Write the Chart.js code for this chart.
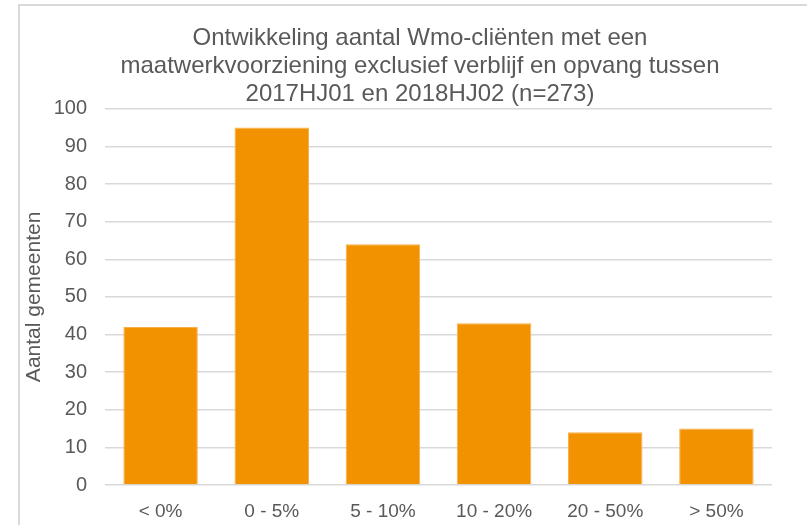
<!DOCTYPE html>
<html>
<head>
<meta charset="utf-8">
<script src="https://cdn.jsdelivr.net/npm/chart.js@4/dist/chart.umd.min.js"></script>
<style>
    html, body { margin: 0; padding: 0; background: #fff; overflow: hidden; }
    #frame { position: absolute; left: 18px; top: 4px; width: 800px; height: 540px; border: 2px solid #d9d9d9; }
    #chart { position: absolute; left: 0; top: 0; }
</style>
</head>
<body>
<div id="frame"></div>
<canvas id="chart" width="807" height="525"></canvas>
<script>
// categorieën en aantallen gemeenten
const categories = ['< 0%', '0 - 5%', '5 - 10%', '10 - 20%', '20 - 50%', '> 50%'];
const aantallen = [42, 95, 64, 43, 14, 15];
const titleLines = [
    'Ontwikkeling aantal Wmo-cliënten met een',
    'maatwerkvoorziening exclusief verblijf en opvang tussen',
    '2017HJ01 en 2018HJ02 (n=273)'
];
const yTitle = 'Aantal gemeenten';

const textColor = '#595959';
const gridColor = '#d9d9d9';
const fontFamily = '"Liberation Sans", Arial, sans-serif';

// titel centreren op het kader in plaats van op de canvasbreedte
const titleShift = {
    id: 'titleShift',
    afterLayout(chart) {
        const t = chart.titleBlock;
        if (t) {
            t.left = 40;
            t.right = 800;
            t.width = t.right - t.left;
        }
    }
};

new Chart(document.getElementById('chart').getContext('2d'), {
    type: 'bar',
    data: {
        labels: categories,
        datasets: [{
            data: aantallen,
            backgroundColor: '#F39200',
            borderColor: '#F7B14A',
            borderWidth: 1,
            categoryPercentage: 1,
            barPercentage: 0.67
        }]
    },
    options: {
        responsive: false,
        animation: false,
        layout: { padding: { left: 20, right: 35, top: 4, bottom: 0 } },
        plugins: {
            legend: { display: false },
            tooltip: { enabled: false },
            title: {
                display: true,
                text: titleLines,
                color: textColor,
                font: { family: fontFamily, size: 24, weight: 'normal', lineHeight: 1.15 },
                padding: { top: 21, bottom: 1 }
            }
        },
        scales: {
            x: {
                grid: { display: false, drawTicks: false },
                border: { display: false },
                ticks: { color: textColor, font: { family: fontFamily, size: 19 }, padding: 15 },
                afterFit: (scale) => { scale.height = 40; }
            },
            y: {
                min: 0,
                max: 100,
                ticks: { stepSize: 10, color: textColor, font: { family: fontFamily, size: 20 }, padding: 18 },
                grid: { color: gridColor, lineWidth: 1.5, drawTicks: false },
                border: { display: false },
                title: {
                    display: true,
                    text: yTitle,
                    color: textColor,
                    font: { family: fontFamily, size: 21 },
                    padding: { top: 2, bottom: 0 }
                },
                afterFit: (scale) => { scale.width = 85; }
            }
        }
    },
    plugins: [titleShift]
});
</script>
</body>
</html>
